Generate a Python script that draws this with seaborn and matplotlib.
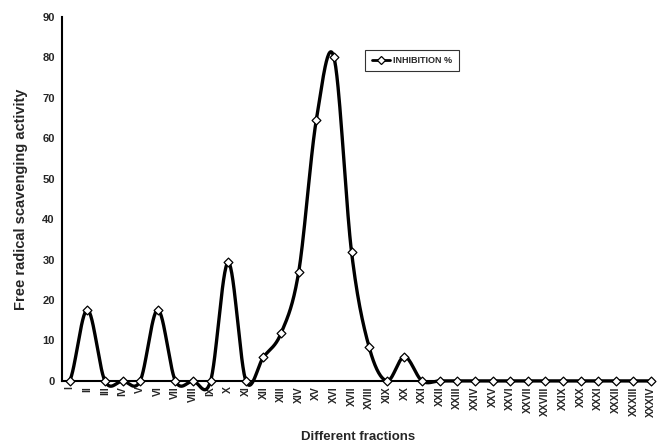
import numpy as np
import pandas as pd
import matplotlib
matplotlib.use("Agg")
import matplotlib.pyplot as plt
import seaborn as sns
from matplotlib.lines import Line2D

fractions = ["I", "II", "III", "IV", "V", "VI", "VII", "VIII", "IX", "X",
             "XI", "XII", "XIII", "XIV", "XV", "XVI", "XVII", "XVIII", "XIX", "XX",
             "XXI", "XXII", "XXIII", "XXIV", "XXV", "XXVI", "XXVII", "XXVIII", "XXIX", "XXX",
             "XXXI", "XXXII", "XXXIII", "XXXIV"]
inhibition = [0, 17.6, 0, 0, 0, 17.6, 0, 0, 0, 29.3,
              0, 5.9, 11.8, 27.0, 64.6, 80.0, 31.8, 8.3, 0, 6.0,
              0, 0, 0, 0, 0, 0, 0, 0, 0, 0,
              0, 0, 0, 0]

sns.set_theme(style="white")
plt.rcParams['font.family'] = ['Liberation Sans', 'DejaVu Sans']

df = pd.DataFrame({"pos": np.arange(len(fractions)), "val": inhibition})

# Smoothed line (Catmull-Rom, like Excel's smoothed line)
x = df["pos"].to_numpy(dtype=float)
y = df["val"].to_numpy(dtype=float)
xs, ys = [], []
for i in range(len(x) - 1):
    p0 = y[i - 1] if i > 0 else y[i]
    p1, p2 = y[i], y[i + 1]
    p3 = y[i + 2] if i + 2 < len(y) else y[i + 1]
    t = np.linspace(0, 1, 30, endpoint=False)
    yy = 0.5 * ((2 * p1) + (-p0 + p2) * t + (2 * p0 - 5 * p1 + 4 * p2 - p3) * t ** 2
                + (-p0 + 3 * p1 - 3 * p2 + p3) * t ** 3)
    xs.extend(x[i] + t)
    ys.extend(yy)
xs.append(x[-1]); ys.append(y[-1])
smooth = pd.DataFrame({"pos": xs, "val": ys})

fig, ax = plt.subplots(figsize=(6.57, 4.45), dpi=100)
fig.subplots_adjust(left=0.094, right=0.995, top=0.962, bottom=0.144)

sns.lineplot(data=smooth, x="pos", y="val", ax=ax, color="black", linewidth=2.4,
             legend=False, zorder=2, clip_on=False)
sns.scatterplot(data=df, x="pos", y="val", ax=ax, marker="D", s=20, color="white",
                edgecolor="black", linewidth=0.9, zorder=3, legend=False, clip_on=False)

handle = Line2D([], [], color="black", linewidth=2.0, marker="D", markersize=4,
                markerfacecolor="white", markeredgecolor="black", markeredgewidth=0.9)
leg = ax.legend([handle], ["INHIBITION %"], loc="upper left",
                bbox_to_anchor=(0.505, 0.922), frameon=True, fancybox=False,
                prop={"weight": "bold", "size": 6.5}, handlelength=2.0,
                borderpad=0.7, handletextpad=0.4)
leg.get_frame().set_edgecolor("black")
leg.get_frame().set_linewidth(0.8)

ax.set_xlim(-0.45, 33.15)
ax.set_ylim(0, 90)
ax.set_yticks(np.arange(0, 91, 10))
ax.set_yticklabels([str(v) for v in range(0, 91, 10)], fontsize=8, fontweight="bold")
ax.set_xticks(df["pos"])
ax.set_xticklabels(fractions, rotation=90, fontsize=7.5, fontweight="bold")
ax.set_xticks(np.arange(0.5, 33.5, 1), minor=True)
ax.tick_params(axis="x", which="major", length=0, pad=4)
ax.tick_params(axis="x", which="minor", length=3, width=1.2, direction="inout", color="black")
ax.tick_params(axis="y", which="major", length=3, width=1, direction="out", color="black", pad=2)

for s in ["top", "right"]:
    ax.spines[s].set_visible(False)
for s in ["left", "bottom"]:
    ax.spines[s].set_color("black")
    ax.spines[s].set_linewidth(1.5)

ax.set_xlabel("Different fractions", fontsize=9.5, fontweight="bold", labelpad=10)
ax.set_ylabel("Free radical scavenging activity", fontsize=10.5, fontweight="bold", labelpad=10)
ax.grid(False)

fig.savefig("out.png", dpi=100)
